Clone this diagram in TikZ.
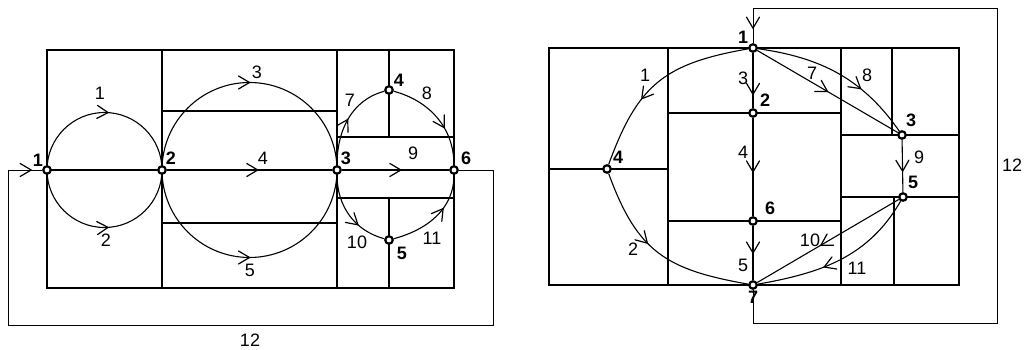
\documentclass[tikz,border=0pt]{standalone}
\usepackage{fontspec}
\setmainfont{Liberation Sans}
\usetikzlibrary{decorations.markings,backgrounds}
\begin{document}
\begin{tikzpicture}[x=1pt,y=1pt,
  wall/.style={line width=1.9pt,line cap=round},
  edge/.style={line width=1.1pt},
  loopline/.style={line width=0.9pt},
  midarr/.style={postaction={decorate},decoration={markings,mark=at position #1 with {\draw[line width=1.2pt,solid,line cap=round,line join=miter] (-11pt,6.5pt) -- (0pt,0pt) -- (-11pt,-6.5pt);}}},
  midarr/.default=0.5,
  pt/.style={circle,draw,line width=2.2pt,fill=white,minimum size=7.5pt,inner sep=0pt},
  nlab/.style={font=\bfseries\fontsize{18}{18}\selectfont,inner sep=0pt},
  elab/.style={font=\fontsize{18}{18}\selectfont,inner sep=0pt}]
\useasboundingbox (0,0) rectangle (1028,350);
% ---------- left diagram nodes ----------
\node[pt] (a1) at (47,180) {};
\node[pt] (a2) at (162,180) {};
\node[pt] (a3) at (337,180) {};
\node[pt] (a4) at (389,260) {};
\node[pt] (a5) at (389,110) {};
\node[pt] (a6) at (454,180) {};
% ---------- right diagram nodes ----------
\node[pt] (b1) at (753,302) {};
\node[pt] (b2) at (753,237) {};
\node[pt] (b3) at (902,215) {};
\node[pt] (b4) at (607,181) {};
\node[pt] (b5) at (903,153) {};
\node[pt] (b6) at (753,129) {};
\node[pt] (b7) at (753,65) {};
\coordinate (la) at (493,180);
\coordinate (lb) at (493,25);
\coordinate (lc) at (8,25);
\coordinate (ld) at (8,180);
\coordinate (ra) at (753,27);
\coordinate (rb) at (997,27);
\coordinate (rc) at (997,342);
\coordinate (rd) at (753,342);
\begin{scope}[on background layer]
% walls left
\draw[wall] (47,62) rectangle (454,300);
\draw[wall] (162,62) -- (162,300);
\draw[wall] (337,62) -- (337,300);
\draw[wall] (47,180) -- (162,180);
\draw[wall] (162,239) -- (337,239);
\draw[wall] (162,127) -- (337,127);
\draw[wall] (337,213) -- (454,213);
\draw[wall] (337,152) -- (454,152);
\draw[wall] (389,300) -- (389,213);
\draw[wall] (389,152) -- (389,62);
% walls right
\draw[wall] (549,65) rectangle (959,302);
\draw[wall] (668,65) -- (668,302);
\draw[wall] (841,65) -- (841,302);
\draw[wall] (549,181) -- (668,181);
\draw[wall] (668,237) -- (841,237);
\draw[wall] (668,129) -- (841,129);
\draw[wall] (892,302) -- (892,215);
\draw[wall] (841,215) -- (959,215);
\draw[wall] (841,153) -- (959,153);
\draw[wall] (894,153) -- (894,65);
% edges left
\draw[edge,midarr=0.52] (a1.center) arc[start angle=180,end angle=0,radius=57.5];
\draw[edge,midarr=0.52] (a1.center) arc[start angle=180,end angle=360,radius=57.5];
\draw[edge,midarr=0.5] (a2.center) arc[start angle=180,end angle=0,radius=87.5];
\draw[edge,midarr=0.5] (a2.center) arc[start angle=180,end angle=360,radius=87.5];
\draw[edge,line width=1.4pt,midarr=0.55] (a2) -- (a3);
\draw[edge,line width=1.4pt,midarr=0.55] (a3) -- (a6);
\draw[edge,midarr=0.5] (a3) to[out=90,in=195] (a4);
\draw[edge,midarr=0.62] (a4) to[out=-15,in=90] (a6);
\draw[edge,midarr=0.65] (a3) to[out=-90,in=165] (a5);
\draw[edge,midarr=0.62] (a5) to[out=15,in=-90] (a6);
\draw[loopline,midarr=-11pt] (a6) -- (la) -- (lb) -- (lc) -- (ld) -- (a1);
% edges right
\draw[edge,midarr=0.62] (b1) to[out=190,in=70,looseness=1.2] (b4);
\draw[edge,midarr=0.42] (b4) to[out=-70,in=170,looseness=1.2] (b7);
\draw[edge,midarr=0.5] (b1) -- (b3);
\draw[edge,midarr=0.66] (b1) to[out=-8,in=125] (b3);
\draw[edge,midarr=0.75] (b1) -- (b2);
\draw[edge,midarr=0.55] (b2) -- (b6);
\draw[edge,midarr=0.5] (b6) -- (b7);
\draw[edge,midarr=0.6] (b3) -- (b5);
\draw[edge,midarr=0.55] (b5) -- (b7);
\draw[edge,midarr=0.6] (b5) to[out=240,in=10] (b7);
\draw[loopline,midarr=-15pt] (b7) -- (ra) -- (rb) -- (rc) -- (rd) -- (b1);
\end{scope}
% node labels left
\node[nlab] (ta1) at (38,190) {1};
\node[nlab] (ta2) at (171,192) {2};
\node[nlab] (ta3) at (346,192) {3};
\node[nlab] (ta4) at (399,270) {4};
\node[nlab] (ta5) at (402,97) {5};
\node[nlab] (ta6) at (466,192) {6};
% edge labels left
\node[elab] (ea1) at (100,257) {1};
\node[elab] (ea2) at (106,110) {2};
\node[elab] (ea3) at (257,278) {3};
\node[elab] (ea4) at (263,192) {4};
\node[elab] (ea5) at (250,80) {5};
\node[elab] (ea7) at (350,250) {7};
\node[elab] (ea8) at (427,257) {8};
\node[elab] (ea9) at (413,197) {9};
\node[elab] (ea10) at (357,108) {10};
\node[elab] (ea11) at (432,112) {11};
\node[elab] (ea12) at (250,10) {12};
% node labels right
\node[nlab] (tb1) at (743,313) {1};
\node[nlab] (tb2) at (765,250) {2};
\node[nlab] (tb3) at (911,230) {3};
\node[nlab] (tb4) at (618,193) {4};
\node[nlab] (tb5) at (913,168) {5};
\node[nlab] (tb6) at (770,142) {6};
\node[nlab] (tb7) at (753,53) {7};
% edge labels right
\node[elab] (eb1) at (645,275) {1};
\node[elab] (eb2) at (633,101) {2};
\node[elab] (eb3) at (743,272) {3};
\node[elab] (eb4) at (743,198) {4};
\node[elab] (eb5) at (743,85) {5};
\node[elab] (eb7) at (812,277) {7};
\node[elab] (eb8) at (867,275) {8};
\node[elab] (eb9) at (919,193) {9};
\node[elab] (eb10) at (810,110) {10};
\node[elab] (eb11) at (857,82) {11};
\node[elab] (eb12) at (1012,185) {12};
\end{tikzpicture}
\end{document}
